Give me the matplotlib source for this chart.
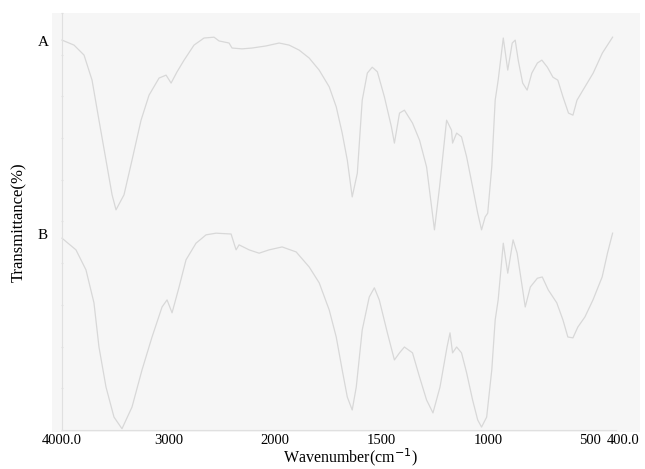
"""
IR光谱图 (A/B 两条曲线), 2000 cm-1 处横轴比例变化
"""
import numpy as np
import matplotlib
matplotlib.use('Agg')
import matplotlib.pyplot as plt
from matplotlib.patches import Rectangle
from matplotlib.transforms import ScaledTranslation

plt.rcParams['font.family'] = ['Liberation Serif', 'DejaVu Serif']

# ---- 数据 ----
wn_a = [4000, 3887, 3793, 3718, 3653, 3587, 3530, 3493, 3418, 3343, 3258, 3183, 3089,
        3023, 2976, 2920, 2854, 2761, 2667, 2573, 2526, 2432, 2404, 2310, 2216, 2085,
        1981, 1934, 1887, 1840, 1793, 1746, 1713, 1685, 1661, 1638, 1614, 1591, 1567,
        1544, 1520, 1487, 1454, 1440, 1416, 1393, 1355, 1322, 1289, 1252, 1228, 1195,
        1172, 1167, 1148, 1125, 1101, 1073, 1049, 1031, 1014, 1002, 983, 967, 953, 929,
        908, 887, 873, 859, 838, 817, 795, 769, 748, 722, 696, 673, 649, 623, 602, 583,
        555, 507, 464, 416]
t_a = [93.5, 92.3, 89.9, 83.9, 74.3, 64.7, 56.4, 52.8, 56.4, 64.7, 74.3, 80.3, 84.4,
       85.1, 83.2, 85.9, 88.7, 92.3, 94.0, 94.2, 93.3, 92.8, 91.6, 91.4, 91.6, 92.1,
       92.8, 92.3, 91.1, 89.2, 86.3, 82.3, 77.5, 71.2, 64.7, 55.9, 61.6, 79.1, 85.6,
       87.0, 85.9, 79.9, 72.7, 68.8, 76.0, 76.7, 73.6, 69.5, 63.1, 48.0, 58.3, 74.3,
       71.9, 68.8, 71.2, 70.3, 65.5, 58.3, 52.0, 48.0, 51.1, 52.0, 63.1, 79.1, 83.9, 94.0,
       86.3, 92.8, 93.5, 88.7, 83.2, 81.5, 85.6, 88.0, 88.7, 87.0, 84.6, 83.9, 79.9, 76.0,
       75.5, 79.1, 81.5, 85.6, 90.4, 94.2]

wn_b = [4000, 3869, 3775, 3700, 3653, 3587, 3512, 3437, 3343, 3249, 3155, 3061, 3014,
        2967, 2901, 2836, 2742, 2648, 2554, 2413, 2366, 2338, 2244, 2150, 2056, 1967,
        1901, 1840, 1793, 1746, 1713, 1685, 1661, 1638, 1619, 1591, 1558, 1534, 1511,
        1473, 1440, 1416, 1393, 1355, 1322, 1289, 1259, 1226, 1193, 1179, 1167, 1148,
        1125, 1101, 1073, 1049, 1031, 1007, 983, 967, 953, 929, 908, 883, 864, 840, 826,
        802, 769, 746, 718, 678, 649, 626, 602, 579, 546, 508, 465, 440, 416]
t_b = [46.0, 43.2, 38.4, 30.5, 19.9, 10.3, 3.1, 0.3, 5.5, 14.4, 22.3, 29.5, 31.2,
       28.1, 34.3, 40.8, 44.8, 46.8, 47.2, 47.0, 43.2, 44.4, 43.2, 42.4, 43.2, 43.9,
       42.7, 39.1, 35.3, 28.8, 22.3, 14.4, 7.9, 4.8, 10.3, 24.0, 31.9, 34.1, 31.2,
       23.3, 16.8, 18.5, 19.9, 18.5, 12.7, 7.2, 4.1, 10.3, 19.9, 23.3, 18.5, 19.9,
       18.5, 13.7, 7.2, 2.4, 0.7, 3.1, 14.4, 26.4, 31.2, 44.8, 37.6, 45.6, 42.4, 34.3, 29.5,
       34.3, 36.4, 36.7, 33.6, 30.5, 26.4, 22.3, 22.1, 24.7, 27.1, 31.2, 36.7, 42.4, 47.2]

x_ticks = [4000, 3000, 2000, 1500, 1000, 500, 400]
x_tick_labels = ['4000.0', '3000', '2000', '1500', '1000', '500', '400.0']


# 2000 cm-1 以下横轴放大 2 倍
def fwd(w):
    w = np.asarray(w, dtype=float)
    return np.where(w >= 2000, w, 2 * w - 2000)


def inv(v):
    v = np.asarray(v, dtype=float)
    return np.where(v >= 2000, v, (v + 2000) / 2)


W, H = 645, 469
fig = plt.figure(figsize=(W / 100, H / 100), dpi=100)

# 扫描图的浅灰底板
fig.patches.append(Rectangle((52 / W, 1 - 432 / H), 588 / W, 419 / H,
                             transform=fig.transFigure, facecolor='#f6f6f6',
                             edgecolor='none', zorder=-5))

ax = fig.add_axes([62 / W, 1 - 430 / H, (616 - 62) / W, (430 - 13) / H])
ax.set_facecolor('none')
ax.set_zorder(2)
ax.set_xscale('function', functions=(fwd, inv))

line_color = '#d8d8d8'
ax.plot(wn_a, t_a, color=line_color, linewidth=0.9, clip_on=False)
ax.plot(wn_b, t_b, color=line_color, linewidth=0.9, clip_on=False)

ax.set_xlim(4000, 400)
ax.set_ylim(0, 100)

ax.set_xticks(x_ticks)
ax.set_xticklabels(x_tick_labels)
ax.xaxis.set_minor_locator(matplotlib.ticker.NullLocator())
ax.tick_params(axis='x', length=0, pad=3, labelsize=10.5, colors='black')

# "500" 与 "400.0" 标签稍微错开
shifts = {'500': -5, '400.0': 7}
for lbl in ax.get_xticklabels():
    dx = shifts.get(lbl.get_text(), 0)
    if dx:
        lbl.set_transform(lbl.get_transform() + ScaledTranslation(dx / 100, 0, fig.dpi_scale_trans))

ax.set_yticks(np.arange(0, 101, 10))
ax.set_yticklabels([])
ax.tick_params(axis='y', length=2, direction='inout', color='#e2e2e2', width=0.8)

for s in ['top', 'right']:
    ax.spines[s].set_visible(False)
for s in ['left', 'bottom']:
    ax.spines[s].set_color('#e0e0e0')
    ax.spines[s].set_linewidth(0.8)

fig.text(350 / W, 1 - 457 / H, 'Wavenumber(cm$^{-1}$)', fontsize=11.5,
         ha='center', va='center')
fig.text(19 / W, 1 - 222 / H, 'Transmittance(%)', rotation=90, fontsize=12,
         ha='center', va='center')

fig.text(43 / W, 1 - 42 / H, 'A', fontsize=11, ha='center', va='center')
fig.text(43 / W, 1 - 235 / H, 'B', fontsize=11, ha='center', va='center')

fig.savefig('out.png', dpi=100)
